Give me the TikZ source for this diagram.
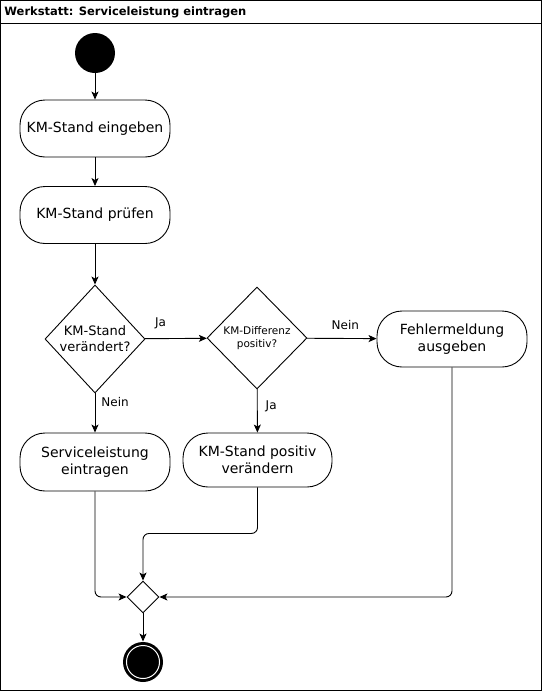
\documentclass[tikz,border=0pt]{standalone}
\usepackage{fontspec}
\setmainfont{DejaVu Sans}
\usetikzlibrary{shapes.geometric,arrows.meta}
\begin{document}
\begin{tikzpicture}[x=1pt,y=-1pt,line width=0.9pt,
  act/.style={draw, rounded corners=25pt, minimum width=150pt, minimum height=57pt, inner sep=0pt, align=center, font=\fontsize{14}{17}\selectfont},
  dec/.style={draw, diamond, inner sep=0pt, align=center},
  lbl/.style={font=\fontsize{12}{14}\selectfont, inner sep=0pt},
  arr/.style={-{Stealth[length=8pt,width=7pt,inset=2pt]}, rounded corners=6pt}]
\useasboundingbox (0,0) rectangle (542,691);
\draw (0.5,0.5) rectangle (541.5,690.5);
\draw (0.5,23) -- (541.5,23);
\node[anchor=west, inner sep=0pt, font=\bfseries\fontsize{11.5}{13}\selectfont] (title) at (4,12) {Werkstatt: Serviceleistung eintragen};
\node[circle, fill=black, minimum size=40pt, inner sep=0pt] (start) at (95,53) {};
\node[act] (eing) at (95,128.5) {KM-Stand eingeben};
\node[act] (pruef) at (95,215) {KM-Stand prüfen};
\node[dec, minimum width=100pt, minimum height=108pt, font=\fontsize{13}{16}\selectfont] (d1) at (95,339) {KM-Stand\\verändert?};
\node[dec, minimum width=100pt, minimum height=102pt, font=\fontsize{10.5}{13}\selectfont] (d2) at (257,338) {KM-Differenz\\positiv?};
\node[act, minimum height=58pt] (serv) at (95,462) {Serviceleistung\\eintragen};
\node[act, minimum width=149pt, minimum height=54pt] (pos) at (257.5,460) {KM-Stand positiv\\verändern};
\node[act, minimum height=56pt] (fehl) at (452,339) {Fehlermeldung\\ausgeben};
\node[draw, diamond, minimum width=32pt, minimum height=32pt, inner sep=0pt] (merge) at (143,597) {};
\node[circle, fill=black, minimum size=40pt, inner sep=0pt] (end) at (143,662) {};
\draw[white, line width=1pt] (end.center) circle (16.5pt);
\draw[arr] (start) -- (eing);
\draw[arr] (eing) -- (pruef);
\draw[arr] (pruef) -- (d1);
\draw[arr] (d1) -- (d2) node[lbl, pos=0.25, above=9pt] {Ja};
\draw[arr] (d1) -- (serv) node[lbl, pos=0.22, right=6pt] {Nein};
\draw[arr] (d2) -- (pos) node[lbl, pos=0.4, right=8pt] {Ja};
\draw[arr] (d2) -- (fehl) node[lbl, pos=0.55, above=8pt] {Nein};
\draw[arr] (serv.south) |- (merge.west);
\draw[arr] (pos.south) -- ++(0,46) -| (merge.north);
\draw[arr] (fehl.south) |- (merge.east);
\draw[arr] (merge) -- (end);
\end{tikzpicture}
\end{document}
